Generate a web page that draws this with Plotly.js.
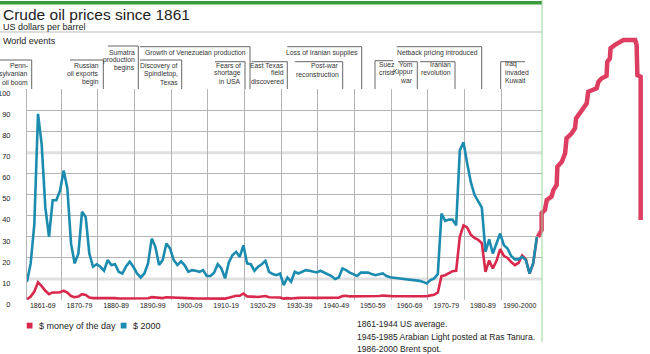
<!DOCTYPE html>
<html><head><meta charset="utf-8">
<script src="https://cdn.plot.ly/plotly-3.0.1.min.js"></script>
<style>html,body{margin:0;padding:0;background:#fff}#chart{width:650px;height:354px}</style>
</head><body><div id="chart"></div>
<script>
// ---------------- DATA ----------------
const firstYear = 1861;
// $ 2000 (real) prices, 1861-2000
const real2000 = [
 8.7,17.4,36,88.5,74,44,30,47.4,47.4,
 52,61.6,53,26.9,17.4,22,41.9,39.5,22,15.8,
 17,15.8,13.9,19,16.6,17,13.4,12.6,16,18.2,
 15.8,12.6,10.7,12.6,17.4,29.2,25.3,16.6,19,26.9,
 24.5,19,16.6,18.4,16.5,13.4,14.2,13.9,13.4,14.2,
 11.4,11.4,13,17,15,10.3,17.7,21.3,22.9,20.5,
 26,17.4,17,13.9,15.8,17,18.6,13.4,12.3,11.8,
 12.6,7.1,10.7,8.7,13.4,12.6,13.4,14.2,13.9,13.4,
 13.1,13.9,13,12.3,11.4,10,10.7,15,14.2,13,
 12.3,11.4,13,13.1,13,12.3,11.8,12.2,12.6,11.4,
 10.8,10.6,10.4,10.3,10.1,9.9,9.7,9.4,9.1,8.6,
 7.9,9.5,10.3,12.3,41.1,37.6,38.2,38.2,35.5,71.1,
 75,65,56,50,46.6,43.9,22.9,28.8,22.1,26.5,
 31.6,26.1,24.5,20.9,19.3,19.3,20.5,19,12.6,17.4,
 30
];
// $ money of the day, 1861-2000
const moneyOfDay = [
 0.3,1.6,4,8.4,6.6,4.4,2.8,3.6,3.6,
 3.7,4.4,3.5,1.9,1.3,1.6,2.8,2.4,1.2,0.9,
 0.95,0.9,0.8,1.0,0.85,0.9,0.7,0.7,0.9,0.95,
 0.9,0.7,0.6,0.65,0.85,1.35,1.2,0.8,0.9,1.3,
 1.2,0.95,0.8,0.95,0.85,0.6,0.75,0.7,0.7,0.7,
 0.6,0.6,0.75,0.95,0.8,0.65,1.1,1.55,2.0,2.0,
 3.1,1.7,1.6,1.35,1.45,1.7,1.9,1.3,1.2,1.3,
 1.2,0.65,0.9,0.7,1.0,1.0,1.1,1.2,1.1,1.0,
 1.0,1.15,1.2,1.2,1.2,1.05,1.1,1.9,2.0,1.7,
 1.7,1.7,1.7,1.9,1.9,1.9,1.9,1.9,2.1,1.9,
 1.8,1.8,1.8,1.8,1.8,1.8,1.8,1.8,1.8,1.8,
 1.8,2.2,2.5,3.6,11.4,11.8,12.9,13.7,13.9,30,
 35.5,34.5,31,29.5,28.6,27,13.4,18.8,15,18.6,
 24.2,21,20,18,16.6,17.6,21.2,19.4,12.6,17.4,
 29.5
];
// stray red stepped line running off the right of the chart (as drawn in the source)
const strayYears = [2000.3,2001.3,2001.3,2002.2,2002.7,2004.0,2004.5,2005.4,2005.6,2006.8,2007.7,2008.1,2009.5,2010.4,2010.7,2011.8,2012.7,2013.6,2014.0,2015.0,2016.3,2016.8,2017.7,2019.0,2019.2,2019.9,2020.1,2021.3,2022.7,2023.6,2026.8,2027.2,2027.4,2028.3,2028.3];
const strayValues = [29.9,33.2,41.1,42.7,47.4,49.0,52.1,54.5,63.2,65.5,69.5,76.6,79.0,81.4,86.1,88.5,90.9,93.2,98.7,99.5,100.3,103.5,105.1,106.2,112.9,114.5,119.3,120.9,122.4,123.2,123.2,120.9,106.6,105.8,37.9];

const decadeLabels = ["1861-69","1870-79","1880-89","1890-99","1900-09","1910-19","1920-29","1930-39","1940-49","1950-59","1960-69","1970-79","1980-89","1990-2000"];
const yTicks = [0,10,20,30,40,50,60,70,80,90,100];
const heavyGrid = [10,70];
const seriesNames = ["$ money of the day","$ 2000"];
const sourceNotes = ["1861-1944 US average.","1945-1985 Arabian Light posted at Ras Tanura.","1986-2000 Brent spot."];
const events = [
  {lines:["Penn-","sylvanian","oil boom"]},
  {lines:["Russian","oil exports","begin"]},
  {lines:["Sumatra","production","begins"]},
  {lines:["Growth of Venezuelan production"]},
  {lines:["Discovery of","Spindletop,","Texas"]},
  {lines:["Fears of","shortage","in USA"]},
  {lines:["East Texas","field","discovered"]},
  {lines:["Loss of Iranian supplies"]},
  {lines:["Post-war","reconstruction"]},
  {lines:["Suez","crisis"]},
  {lines:["Netback pricing introduced"]},
  {lines:["Yom","Kippur","war"]},
  {lines:["Iranian","revolution"]},
  {lines:["Iraq","invaded","Kuwait"]}
];

// ---------------- LAYOUT HELPERS ----------------
const years = real2000.map((_, i) => firstYear + i);
const L = 27, PW = 623, PH = 300;
const px = x => (x - L) / PW;
const py = y => (PH - y) / PH;
const FONT = "Liberation Sans, Arial, Helvetica, sans-serif";
const BLUE = "#1b8baf", RED = "#d8284c";
const GRID = '#b4b4b4';

// event placement: [textX, firstLineY, align, topY, lineX0, lineX1, verticalX]
const eventPos = [
  [29.5,66,'right',60,0,31.7,31.7],
  [101,66,'right',60,70,103.3,103.3],
  [136.5,52.3,'right',46,108,138.3,138.3],
  [248,52.7,'right',46.7,140,250,250],
  [180,66,'right',60,140,181.7,181.7],
  [243,65,'right',61.7,215,245,245],
  [285.5,65,'right',61.7,251.7,287.3,287.3],
  [359.5,52.7,'right',46.7,287.3,361.7,361.7],
  [340.5,66,'right',61.7,295,342.7,342.7],
  [376.7,64,'left',60.7,375,393,375],
  [479.5,52.7,'right',46.7,396.7,481.7,481.7],
  [415,64,'right',61.7,398,417.3,417.3],
  [452.5,64,'right',61.7,420,455,455],
  [503,64,'left',61.7,500.7,525,500.7]
];

const shapes = [];
const annotations = [];
const hline = (x0,x1,y,color,w) => shapes.push({type:'line',xref:'paper',yref:'paper',x0:px(x0),x1:px(x1),y0:py(y),y1:py(y),line:{color:color,width:w}});
const vline = (x,y0,y1,color,w) => shapes.push({type:'line',xref:'paper',yref:'paper',x0:px(x),x1:px(x),y0:py(y0),y1:py(y1),line:{color:color,width:w}});
const text = (x,y,t,size,anchor,color) => annotations.push({xref:'paper',yref:'paper',x:px(x),y:py(y),text:t,showarrow:false,xanchor:anchor,yanchor:'middle',font:{family:FONT,size:size,color:color||'#222'}});

// heavy light gridlines (below traces)
heavyGrid.forEach(v => shapes.push({type:'line',xref:'paper',yref:'y',x0:0,x1:515/PW,y0:v,y1:v,layer:'below',line:{color:'#e0e0e0',width:3}}));

// frame
shapes.push({type:'rect',xref:'paper',yref:'paper',x0:px(0),x1:px(542),y0:py(4.5),y1:py(1),fillcolor:'#3a9a3a',line:{width:0}});
vline(542,0,342,'#9ad49a',1);
hline(0,542,32,'#bbbbbb',1);

// title block
text(1,14.5,"Crude oil prices since 1861",15.5,'left','#222');
text(1,26.5,"US dollars per barrel",9,'left','#222');
text(1,40.5,"World events",9,'left','#222');

// events
const EV = '#666';
events.forEach((ev, i) => {
  const p = eventPos[i];
  ev.lines.forEach((ln, k) => text(p[0], p[1] + k*8, ln, 6.8, p[2], '#333'));
  hline(p[4], p[5], p[3], EV, 1);
  vline(p[6], p[3], 89, EV, 1);
});

// legend
shapes.push({type:'rect',xref:'paper',yref:'paper',x0:px(26.7),x1:px(32.5),y0:py(328.5),y1:py(322.7),fillcolor:RED,line:{width:0}});
shapes.push({type:'rect',xref:'paper',yref:'paper',x0:px(120.7),x1:px(126.5),y0:py(328.5),y1:py(322.7),fillcolor:BLUE,line:{width:0}});
text(36.5,325.5,seriesNames[0],9,'left','#222');
text(130.5,325.5,seriesNames[1],9,'left','#222');

// notes
sourceNotes.forEach((t,k) => text(355,324.5 + k*12,t,8.5,'left','#222'));

const gridBounds = decadeLabels.slice(1).map((_, i) => 1870.3 + i*10);
const labelCenters = decadeLabels.map((_, i) => 1865.3 + i*10);

const traces = [
  {x: years, y: moneyOfDay, type:'scatter', mode:'lines', name: seriesNames[0], line:{color:RED,width:2.6}, xaxis:'x', yaxis:'y', hoverinfo:'skip'},
  {x: years, y: real2000, type:'scatter', mode:'lines', name: seriesNames[1], line:{color:BLUE,width:2.6}, xaxis:'x', yaxis:'y', hoverinfo:'skip'},
  {x: strayYears, y: strayValues, type:'scatter', mode:'lines', line:{color:'#dc3d60',width:4.5}, xaxis:'x2', yaxis:'y2', hoverinfo:'skip'}
];

const layout = {
  width:650, height:354,
  margin:{l:L, r:0, t:0, b:54},
  paper_bgcolor:'#fff', plot_bgcolor:'rgba(0,0,0,0)',
  showlegend:false,
  font:{family:FONT, color:'#222'},
  xaxis:{domain:[0, 515/PW], range:[1861, 1861+515/3.668], anchor:'y',
    tickmode:'array', tickvals:labelCenters, ticktext:decadeLabels, ticks:'', showgrid:false, zeroline:false,
    tickfont:{family:FONT,size:7,color:'#222'},
    minor:{tickmode:'array', tickvals:gridBounds, showgrid:true, gridcolor:GRID, gridwidth:1, ticks:''},
    showline:false},
  yaxis:{domain:[0, 211/PH], range:[0,100.3], anchor:'x',
    tickmode:'array', tickvals:yTicks, ticktext:yTicks.map(String), ticks:'',
    showgrid:false, zeroline:false,
    minor:{tickmode:'array', tickvals:yTicks.filter(v => heavyGrid.indexOf(v) < 0), showgrid:true, gridcolor:GRID, gridwidth:1, ticks:''},
    showline:true, linecolor:GRID, linewidth:1,
    tickfont:{family:FONT,size:7.5,color:'#222'}, ticklabelshift:4, ticklabelstandoff:14},
  xaxis2:{domain:[0,1], range:[1861, 1861+PW/3.668], anchor:'y2', visible:false, fixedrange:true},
  yaxis2:{domain:[0,1], range:[0, PH/2.11], anchor:'x2', visible:false, fixedrange:true},
  shapes: shapes,
  annotations: annotations
};

Plotly.newPlot('chart', traces, layout, {staticPlot:true, displayModeBar:false});
</script>
</body></html>
